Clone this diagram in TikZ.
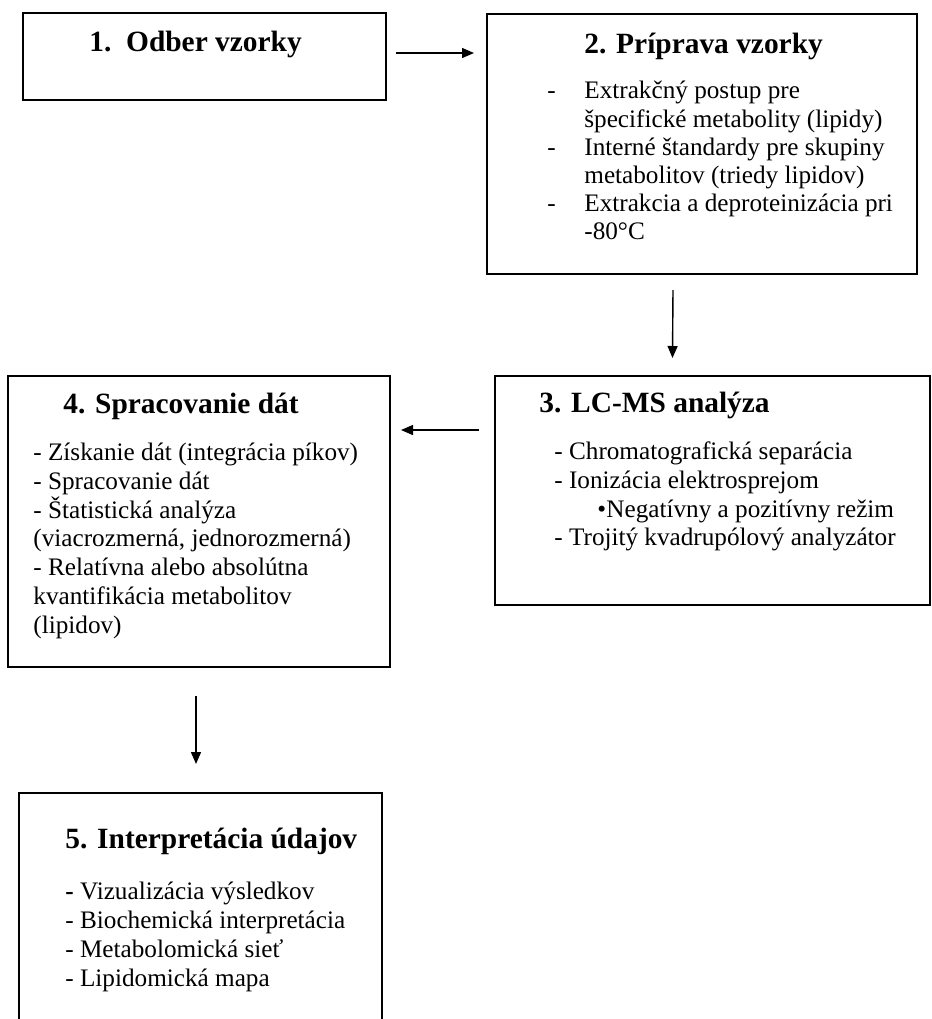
\documentclass[tikz,border=0pt]{standalone}
\usepackage{fontspec}
\setmainfont{Liberation Serif}
\usetikzlibrary{arrows.meta,calc,fit}
\begin{document}
\begin{tikzpicture}[x=0.5pt,y=-0.5pt,
  box/.style={draw=black,line width=1pt,inner sep=0pt,rectangle},
  ttl/.style={anchor=base west,inner sep=0pt,font=\fontsize{14.7}{17}\selectfont\bfseries},
  txt/.style={anchor=base west,inner sep=0pt,font=\fontsize{12.6}{14.2}\selectfont},
  arr/.style={line width=0.7pt,-{Triangle[length=6pt,width=5pt]}}]
\useasboundingbox (0,0) rectangle (932,1019);
% boxes
\node[box,fit={(23,13) (386,100)}] (b1) {};
\node[box,fit={(487,14) (917,274)}] (b2) {};
\node[box,fit={(495,376) (930,605)}] (b3) {};
\node[box,fit={(8,376) (390,667)}] (b4) {};
\node[box,fit={(19,793) (382,1030)}] (b5) {};
% box 1
\node[ttl] (t1) at (89,51) {1.\ \ Odber vzorky};
% box 2
\node[ttl] (t2) at (584,53) {2. Príprava vzorky};
\node[txt] (d21) at (547,98) {-};
\node[txt] (l21) at (584,98) {Extrakčný postup pre};
\node[txt] (l22) at (584,127) {špecifické metabolity (lipidy)};
\node[txt] (d22) at (547,155) {-};
\node[txt] (l23) at (584,155) {Interné štandardy pre skupiny};
\node[txt] (l24) at (584,183) {metabolitov (triedy lipidov)};
\node[txt] (d23) at (547,211) {-};
\node[txt] (l25) at (584,211) {Extrakcia a deproteinizácia pri};
\node[txt] (l26) at (584,239) {-80°C};
% box 3
\node[ttl] (t3) at (539,412) {3. LC-MS analýza};
\node[txt] (l31) at (554,459) {- Chromatografická separácia};
\node[txt] (l32) at (554,488) {- Ionizácia elektrosprejom};
\node[txt] (d31) at (597,517) {\textbullet};
\node[txt] (l33) at (606,517) {Negatívny a pozitívny režim};
\node[txt] (l34) at (554,545) {- Trojitý kvadrupólový analyzátor};
% box 4
\node[ttl] (t4) at (63,413) {4. Spracovanie dát};
\node[txt] (l41) at (33,460) {- Získanie dát (integrácia píkov)};
\node[txt] (l42) at (33,489) {- Spracovanie dát};
\node[txt] (l43) at (33,518) {- Štatistická analýza};
\node[txt] (l44) at (33,546) {(viacrozmerná, jednorozmerná)};
\node[txt] (l45) at (33,575) {- Relatívna alebo absolútna};
\node[txt] (l46) at (33,604) {kvantifikácia metabolitov};
\node[txt] (l47) at (33,633) {(lipidov)};
% box 5
\node[ttl] (t5) at (65,848) {5. Interpretácia údajov};
\node[txt] (l51) at (65,899) {\textbf{-} Vizualizácia výsledkov};
\node[txt] (l52) at (65,928) {- Biochemická interpretácia};
\node[txt] (l53) at (65,957) {- Metabolomická sieť};
\node[txt] (l54) at (65,986) {- Lipidomická mapa};
% arrows
\draw[arr] ($(b1.east)+(9,-3.5)$) -- ($(b1.east -| b2.west)+(-12,-3.5)$);
\draw[arr] ($(b2.south)+(-29,15)$) -- ($(b3.north)+(-40,-17)$);
\draw[arr] ($(b3.west)+(-15,-60.5)$) -- ($(b3.west -| b4.east)+(10,-60.5)$);
\draw[arr] ($(b4.south)+(-3,28)$) -- ($(b5.north)+(-4.5,-28)$);
\end{tikzpicture}
\end{document}
